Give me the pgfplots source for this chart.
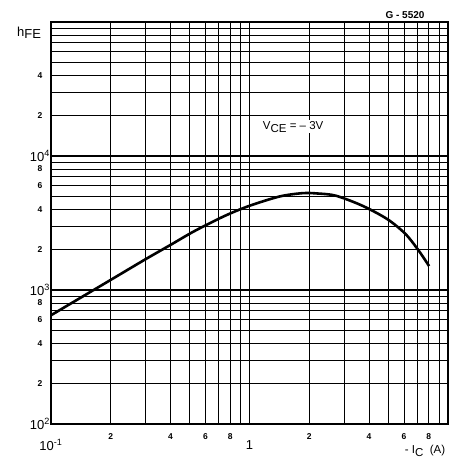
\documentclass[border=0pt]{standalone}
\usepackage{fontspec}
\setmainfont{Liberation Sans}
\usepackage{pgfplots}
\pgfplotsset{compat=1.18}
\newcommand{\dec}[1]{{\fontsize{13}{14}\selectfont\mdseries 10\textsuperscript{#1}}}
\begin{document}
\begin{tikzpicture}[x=1pt,y=1pt]
\path[use as bounding box] (0,0) rectangle (457,466);
\begin{axis}[
    at={(51pt,42pt)}, anchor=south west,
    scale only axis, width=397pt, height=402pt,
    xmode=log, ymode=log,
    xmin=0.1, xmax=10, ymin=100, ymax=100000,
    axis line style={line width=1.6pt},
    major tick length=0pt, minor tick length=0pt,
    /pgf/number format/assume math mode=true,
    xtick={0.2,0.4,0.6,0.8,2,4,6,8},
    xticklabels={2,4,6,8,2,4,6,8},
    minor xtick={0.3,0.5,0.7,0.9,3,5,7,9},
    ytick={200,400,600,800,2000,4000,6000,8000,20000,40000},
    yticklabels={2,4,6,8,2,4,6,8,2,4},
    minor ytick={300,500,700,900,3000,5000,7000,9000,30000,50000,60000,70000,80000,90000},
    extra x ticks={0.1,1},
    extra x tick labels={\dec{-1},{\fontsize{13}{14}\selectfont\mdseries 1}},
    extra y ticks={100,1000,10000},
    extra y tick labels={\dec{2},\dec{3},\dec{4}},
    xticklabel style={anchor=center, yshift=-13pt, font=\fontsize{8.5}{9}\selectfont\bfseries},
    yticklabel style={anchor=center, xshift=-11pt, font=\fontsize{8.5}{9}\selectfont\bfseries},
    extra x tick style={grid=major, major grid style={black, line width=1.5pt},
        tick label style={yshift=-8pt}},
    extra y tick style={grid=major, major grid style={black, line width=1.5pt},
        tick label style={anchor=east}},
    grid=both,
    major grid style={black, line width=0.8pt},
    minor grid style={black, line width=0.8pt},
]
\addplot[black, line width=2.6pt, smooth] coordinates {
    (0.1,648) (0.2,1190) (0.3,1700) (0.4,2170) (0.53,2760) (0.75,3570)
    (1,4250) (1.42,4990) (1.85,5280) (2.2,5250) (2.73,5050) (3.71,4250)
    (4.96,3370) (6.12,2610) (7.14,1955) (8.03,1508)
};
\node[fill=white, inner sep=1pt, font=\fontsize{11.5}{12}\selectfont]
    at (axis cs:1.66,16500) {V\raisebox{-3pt}{CE} = -- 3V};
\end{axis}
\node[font=\fontsize{13}{14}\selectfont] at (29,433) {h\raisebox{-2.5pt}{FE}};
\node[font=\fontsize{10}{11}\selectfont\bfseries] at (405,451) {G - 5520};
\node[font=\fontsize{11.5}{12}\selectfont] at (425,15) {- I\raisebox{-3pt}{C}\ \ (A)};
\end{tikzpicture}
\end{document}
